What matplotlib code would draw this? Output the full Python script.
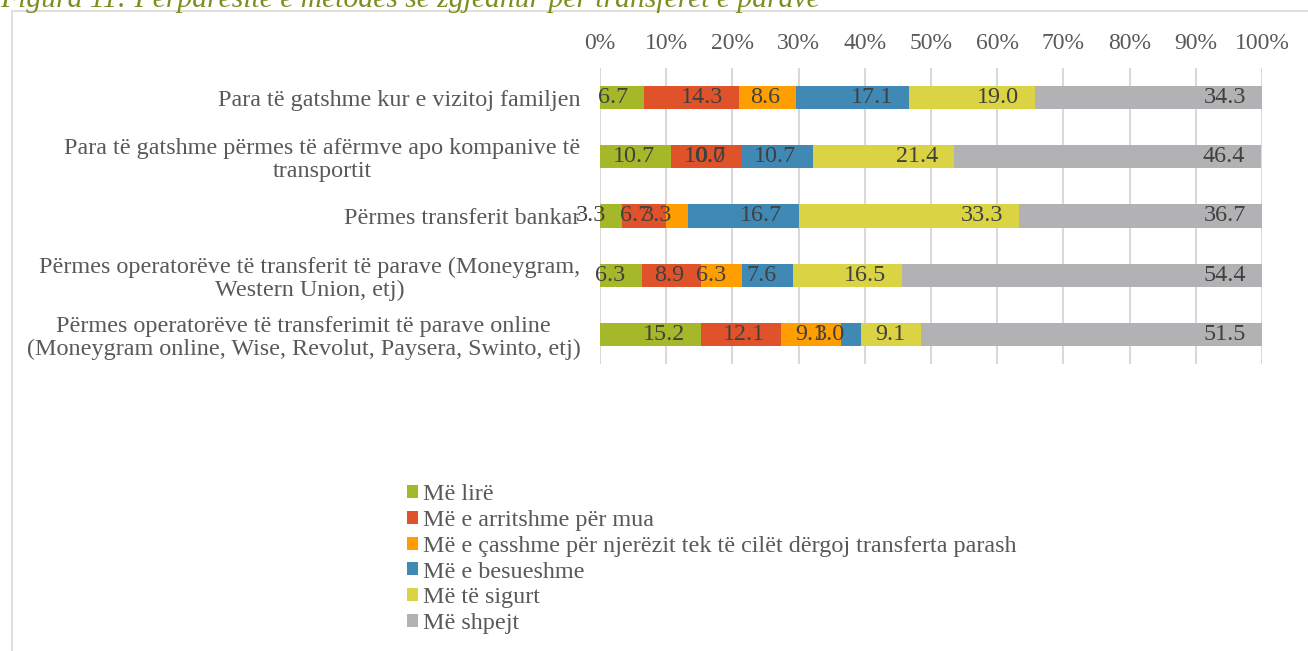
import numpy as np
import matplotlib.pyplot as plt
from matplotlib.patches import Rectangle, Patch

plt.rcParams['font.family'] = ['Liberation Serif', 'DejaVu Serif']

categories = [
    'Para të gatshme kur e vizitoj familjen',
    'Para të gatshme përmes të afërmve apo kompanive të\ntransportit',
    'Përmes transferit bankar',
    'Përmes operatorëve të transferit të parave (Moneygram,\nWestern Union, etj)',
    'Përmes operatorëve të transferimit të parave online\n(Moneygram online, Wise, Revolut, Paysera, Swinto, etj)',
]
series_names = [
    'Më lirë',
    'Më e arritshme për mua',
    'Më e çasshme për njerëzit tek të cilët dërgoj transferta parash',
    'Më e besueshme',
    'Më të sigurt',
    'Më shpejt',
]
mel_lire = [6.7, 10.7, 3.3, 6.3, 15.2]
arritshme = [14.3, 10.7, 6.7, 8.9, 12.1]
casshme = [8.6, 0.0, 3.3, 6.3, 9.1]
besueshme = [17.1, 10.7, 16.7, 7.6, 3.0]
sigurt = [19.0, 21.4, 33.3, 16.5, 9.1]
shpejt = [34.3, 46.4, 36.7, 54.4, 51.5]
colors = ['#A5B82A', '#E0532A', '#FF9E00', '#3F89B4', '#DAD444', '#B2B2B4']

series = [mel_lire, arritshme, casshme, besueshme, sigurt, shpejt]

W, H = 1308, 651
fig = plt.figure(figsize=(W / 100, H / 100), dpi=100)

# chart frame (light grey border, open on the right)
fig.patches.append(Rectangle((12 / W, -0.05), 1.1, 1 - 11 / H + 0.05, transform=fig.transFigure,
                             fill=False, edgecolor='#D9D9D9', linewidth=1.2))

fig.text(0 / W, 1 - 7 / H, 'Figura 11: Përparësitë e metodës së zgjedhur për transferet e parave',
         fontsize=21.3, style='italic', color='#7A8F1E', va='baseline', ha='left')

ax = fig.add_axes([600 / W, 1 - 364 / H, 662 / W, (364 - 68) / H])

y = np.arange(len(categories))
left = np.zeros(len(categories))
for vals, name, col in zip(series, series_names, colors):
    vals = np.array(vals)
    ax.barh(y, vals, left=left, height=0.39, color=col, label=name, zorder=2)
    # labels sit just inside the end of each segment
    for yi, (l, v) in enumerate(zip(left, vals)):
        ax.annotate(f'{v:.1f}', (l + v, yi), xytext=(-16, 0), textcoords='offset pixels',
                    ha='right', va='center', fontsize=17.4, color='#404040', zorder=3)
    left = left + vals

ax.set_xlim(0, 100)
ax.set_ylim(len(categories) - 0.5, -0.5)
ax.set_xticks(np.arange(0, 101, 10))
ax.set_xticklabels([f'{t}%' for t in range(0, 101, 10)])
ax.xaxis.tick_top()
ax.tick_params(axis='x', length=0, pad=10, labelsize=17, labelcolor='#595959')
ax.set_yticks(y)
ax.set_yticklabels(categories, multialignment='center', linespacing=1.1)
ax.tick_params(axis='y', length=0, pad=14, labelsize=17.4, labelcolor='#595959')
ax.grid(axis='x', color='#D9D9D9', linewidth=1.5, zorder=0)
for s in ax.spines.values():
    s.set_visible(False)

handles = [Patch(facecolor=c, edgecolor='none') for c in colors]
leg = fig.legend(handles, series_names, loc='upper left', bbox_to_anchor=(407 / W, 1 - 484 / H),
                 frameon=False, fontsize=17.4, handlelength=0.45, handleheight=0.45,
                 handletextpad=0.2, labelspacing=0.2, borderaxespad=0, borderpad=0)
for t in leg.get_texts():
    t.set_color('#595959')

fig.savefig('out.png', dpi=100)
